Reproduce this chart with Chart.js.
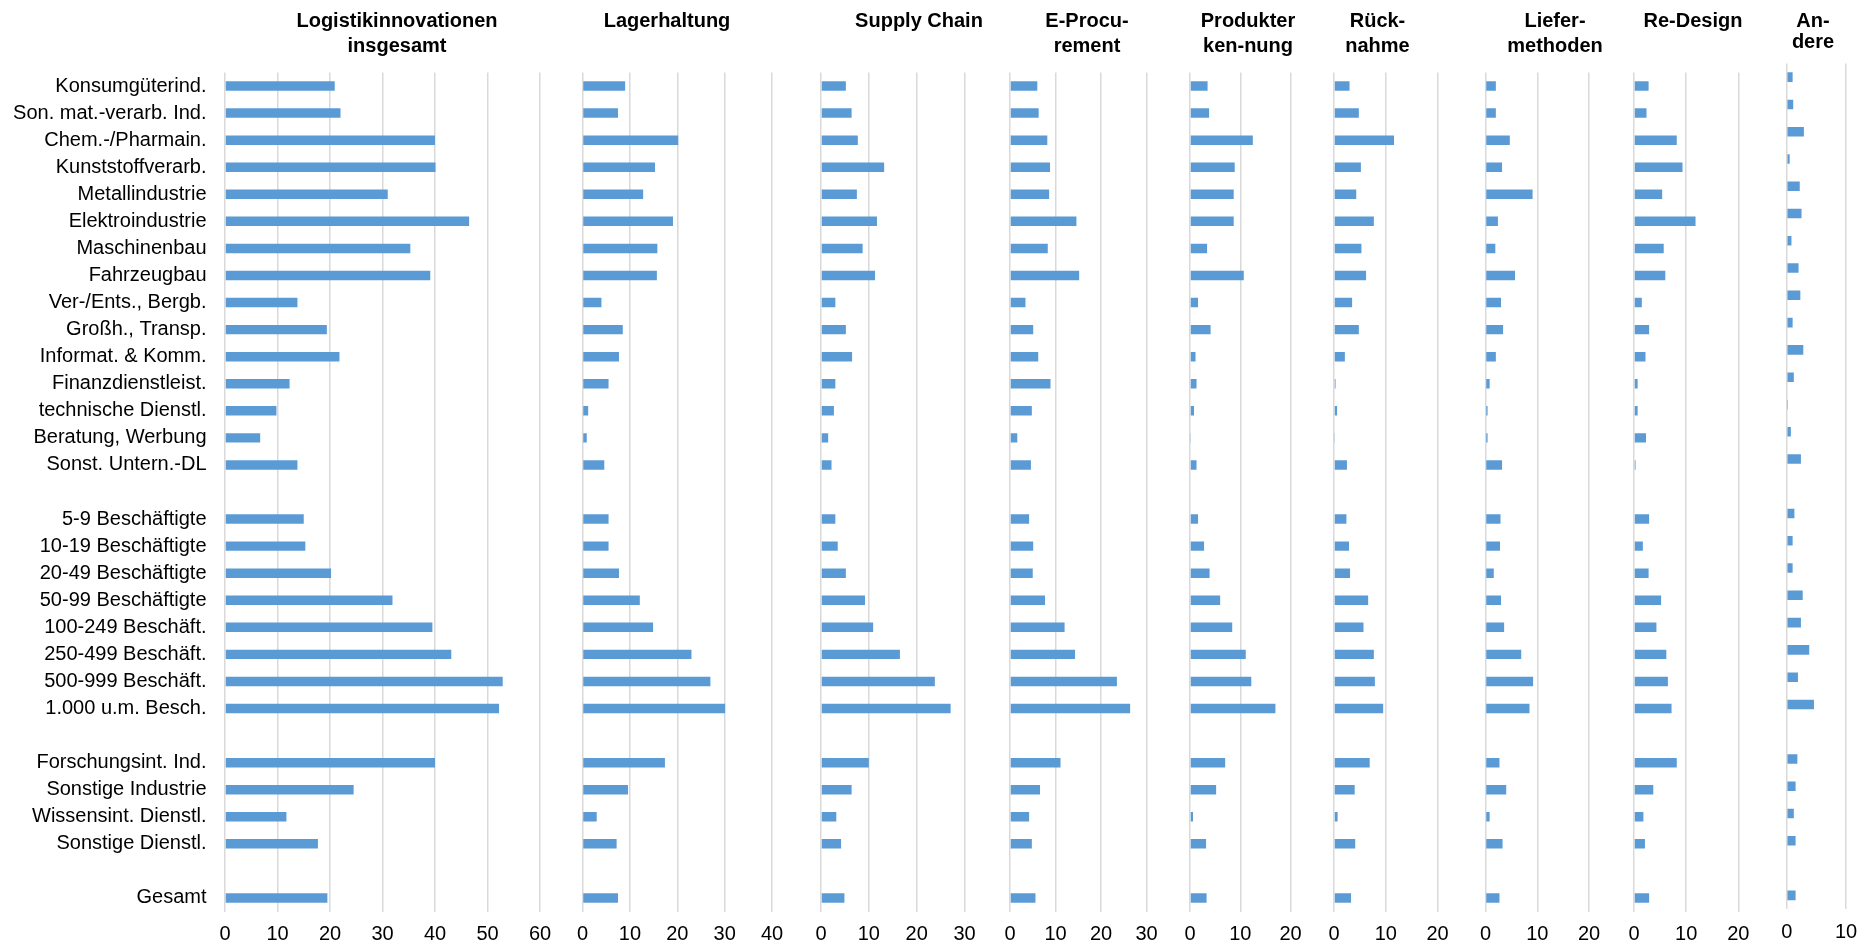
<!DOCTYPE html>
<html>
<head>
<meta charset="utf-8">
<script src="https://cdn.jsdelivr.net/npm/chart.js@4/dist/chart.umd.min.js"></script>
<style>
  body { margin: 0; background: #fff; width: 1872px; height: 947px; overflow: hidden; position: relative; }
  canvas { position: absolute; top: 0; }
</style>
</head>
<body>
<script>
// categories (blank strings = gap rows)
const categories = ['Konsumgüterind.', 'Son. mat.-verarb. Ind.', 'Chem.-/Pharmain.', 'Kunststoffverarb.',
  'Metallindustrie', 'Elektroindustrie', 'Maschinenbau', 'Fahrzeugbau', 'Ver-/Ents., Bergb.',
  'Großh., Transp.', 'Informat. & Komm.', 'Finanzdienstleist.', 'technische Dienstl.',
  'Beratung, Werbung', 'Sonst. Untern.-DL', '',
  '5-9 Beschäftigte', '10-19 Beschäftigte', '20-49 Beschäftigte', '50-99 Beschäftigte',
  '100-249 Beschäft.', '250-499 Beschäft.', '500-999 Beschäft.', '1.000 u.m. Besch.', '',
  'Forschungsint. Ind.', 'Sonstige Industrie', 'Wissensint. Dienstl.', 'Sonstige Dienstl.', '',
  'Gesamt'];

// series values (%)
const insgesamt = [20.9, 22.0, 40.0, 40.1, 31.0, 46.5, 35.3, 39.1, 13.8, 19.4, 21.8, 12.3, 9.8, 6.7, 13.8, null,
  15.0, 15.3, 20.2, 31.9, 39.5, 43.1, 52.9, 52.2, null, 40.0, 24.5, 11.7, 17.7, null, 19.5];
const lagerhaltung = [9.0, 7.5, 20.2, 15.3, 12.8, 19.1, 15.8, 15.7, 4.0, 8.5, 7.7, 5.5, 1.2, 0.9, 4.6, null,
  5.5, 5.5, 7.7, 12.1, 14.9, 23.0, 27.0, 30.1, null, 17.4, 9.6, 3.0, 7.2, null, 7.5];
const supplyChain = [5.2, 6.4, 7.7, 13.2, 7.5, 11.7, 8.7, 11.3, 3.0, 5.2, 6.5, 3.0, 2.7, 1.5, 2.2, null,
  3.0, 3.5, 5.2, 9.2, 10.9, 16.5, 23.8, 27.1, null, 10.0, 6.4, 3.2, 4.2, null, 4.9];
const eProcurement = [6.0, 6.3, 8.2, 8.8, 8.6, 14.6, 8.3, 15.2, 3.4, 5.1, 6.2, 8.9, 4.8, 1.6, 4.6, null,
  4.2, 5.1, 5.0, 7.7, 12.0, 14.3, 23.5, 26.4, null, 11.1, 6.6, 4.2, 4.8, null, 5.6];
const produktkennung = [3.5, 3.8, 12.5, 8.9, 8.7, 8.7, 3.4, 10.7, 1.6, 4.1, 1.1, 1.3, 0.8, 0.2, 1.3, null,
  1.6, 2.8, 3.9, 6.0, 8.4, 11.1, 12.2, 17.0, null, 7.0, 5.2, 0.6, 3.2, null, 3.3];
const ruecknahme = [3.0, 4.8, 11.6, 5.2, 4.3, 7.7, 5.3, 6.2, 3.5, 4.8, 2.1, 0.3, 0.6, 0.1, 2.5, null,
  2.4, 2.9, 3.1, 6.6, 5.7, 7.7, 7.9, 9.5, null, 6.9, 4.0, 0.7, 4.1, null, 3.3];
const liefermethoden = [2.0, 2.0, 4.7, 3.2, 9.1, 2.4, 1.9, 5.7, 3.0, 3.4, 2.0, 0.8, 0.4, 0.4, 3.2, null,
  2.9, 2.8, 1.6, 3.0, 3.6, 6.9, 9.2, 8.5, null, 2.7, 4.0, 0.8, 3.3, null, 2.7];
const reDesign = [2.8, 2.4, 8.2, 9.3, 5.4, 11.8, 5.7, 6.0, 1.5, 2.9, 2.2, 0.7, 0.7, 2.3, 0.3, null,
  2.9, 1.7, 2.8, 5.2, 4.3, 6.2, 6.5, 7.2, null, 8.2, 3.7, 1.8, 2.1, null, 2.9];
const andere = [1.0, 1.1, 2.9, 0.5, 2.2, 2.5, 0.8, 2.0, 2.3, 1.0, 2.8, 1.2, 0.2, 0.7, 2.4, null,
  1.3, 1.0, 1.0, 2.7, 2.4, 3.8, 1.9, 4.6, null, 1.8, 1.5, 1.2, 1.5, null, 1.5];

// axis maxima per panel
const axisMax = [60, 40, 30, 30, 20, 20, 20, 20, 10];

const panelTitles = [
  ['Logistikinnovationen', 'insgesamt'], ['Lagerhaltung'], ['Supply Chain'], ['E-Procu-', 'rement'],
  ['Produkter', 'ken-nung'], ['Rück-', 'nahme'], ['Liefer-', 'methoden'], ['Re-Design'], ['An-', 'dere']
];
const seriesList = [insgesamt, lagerhaltung, supplyChain, eProcurement, produktkennung,
  ruecknahme, liefermethoden, reDesign, andere];

// layout: plot left/right in page px, title centre, plot top/bottom
const layout = [
  { x0: 225, x1: 540, tx: 397 },
  { x0: 582.5, x1: 772, tx: 667 },
  { x0: 821, x1: 964.5, tx: 919 },
  { x0: 1010, x1: 1146.5, tx: 1087 },
  { x0: 1190, x1: 1290.5, tx: 1248 },
  { x0: 1334, x1: 1437.5, tx: 1377.5 },
  { x0: 1485.5, x1: 1589, tx: 1555 },
  { x0: 1634, x1: 1738.3, tx: 1693 },
  { x0: 1786.7, x1: 1846, tx: 1813, top: 63.5, bottom: 909, lh: 21 }
];

const H = 947;
const FONT = '"Liberation Sans", Arial, sans-serif';
Chart.defaults.font.family = FONT;
Chart.defaults.font.size = 20;
Chart.defaults.color = '#000';

seriesList.forEach((values, i) => {
  const L = layout[i];
  const top = L.top || 72.5;
  const bottom = L.bottom || 911.5;
  const first = i === 0;
  const left = first ? 0 : Math.round(L.x0 - 24);
  const right = Math.round(L.x1 + 24);
  const width = right - left;

  const cv = document.createElement('canvas');
  cv.width = width; cv.height = H;
  cv.style.left = left + 'px';
  cv.style.width = width + 'px'; cv.style.height = H + 'px';
  document.body.appendChild(cv);

  const titlePlugin = {
    id: 'panelTitle',
    afterDraw(chart) {
      const ctx = chart.ctx;
      ctx.save();
      ctx.font = 'bold 20px ' + FONT;
      ctx.fillStyle = '#000';
      ctx.textAlign = 'center';
      ctx.textBaseline = 'middle';
      panelTitles[i].forEach((line, k) => {
        ctx.fillText(line, L.tx - left, 21.5 + k * (L.lh || 24.5));
      });
      ctx.restore();
    }
  };

  const yScale = {
    display: first,
    ticks: { autoSkip: false, padding: 18.5 },
    grid: { display: false, drawTicks: false },
    border: { display: false }
  };
  if (first) yScale.afterFit = s => { s.width = L.x0; };

  new Chart(cv, {
    type: 'bar',
    data: {
      labels: categories,
      datasets: [{
        data: values,
        backgroundColor: '#5b9bd5',
        barPercentage: 0.35,
        categoryPercentage: 1.0
      }]
    },
    options: {
      indexAxis: 'y',
      responsive: false,
      animation: false,
      layout: {
        padding: {
          top: top,
          bottom: H - bottom - 36,
          left: first ? 0 : L.x0 - left,
          right: right - L.x1
        }
      },
      plugins: { legend: { display: false }, tooltip: { enabled: false } },
      scales: {
        x: {
          min: 0, max: axisMax[i],
          ticks: { stepSize: 10, autoSkip: false, maxRotation: 0, padding: 11 },
          grid: { color: '#d9d9d9', lineWidth: 1.5, drawTicks: false },
          border: { display: false },
          afterFit: s => { s.height = 36; }
        },
        y: yScale
      }
    },
    plugins: [titlePlugin]
  });
});
</script>
</body>
</html>
